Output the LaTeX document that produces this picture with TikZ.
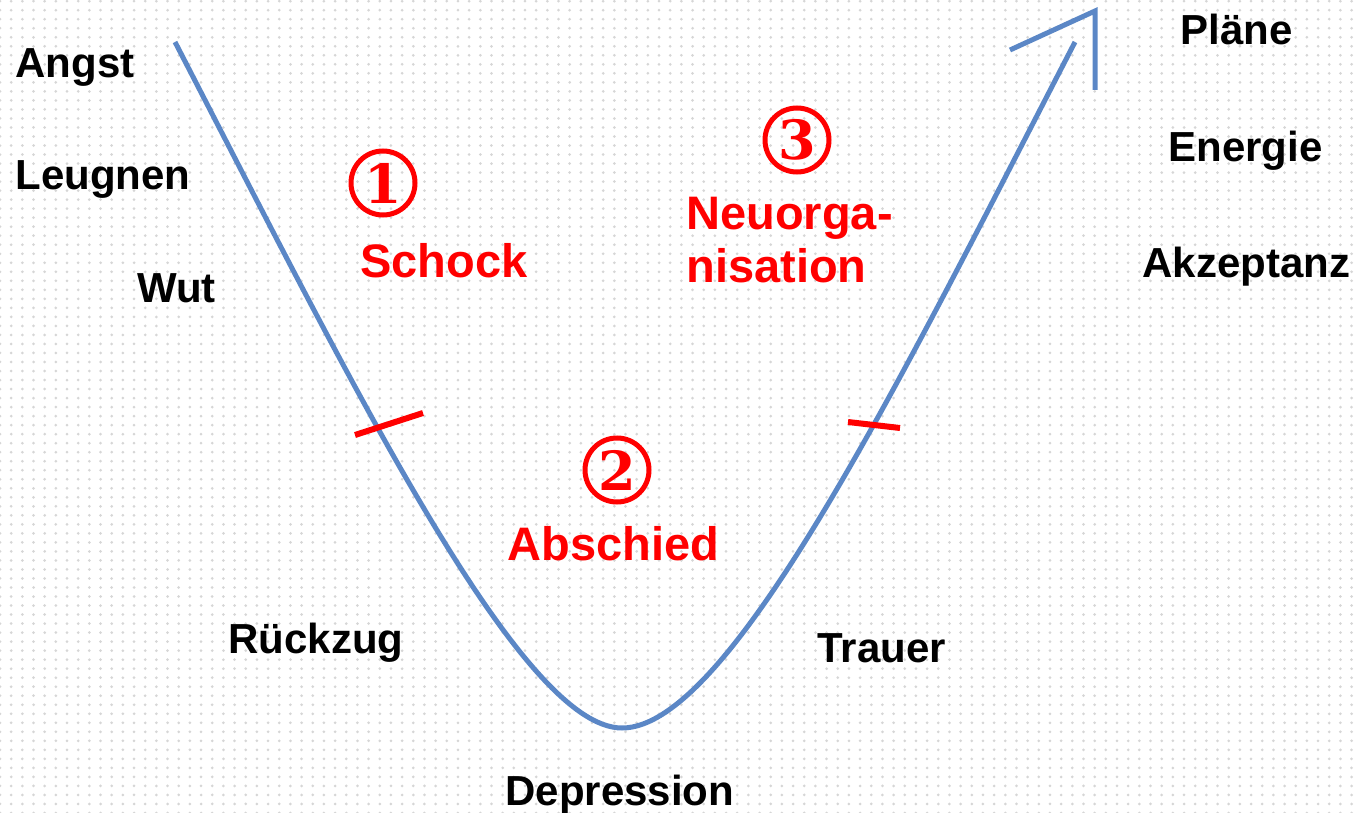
\documentclass[tikz,border=0pt]{standalone}
\usepackage{fontspec}
\setmainfont{Liberation Sans}
\newfontfamily\digitfont{DejaVu Serif}
\usetikzlibrary{positioning, patterns}
\definecolor{curveblue}{RGB}{91,135,198}
\definecolor{markred}{RGB}{255,0,0}
\definecolor{dotgray}{RGB}{214,214,214}
\pgfdeclarepatternformonly{gridDots}{\pgfqpoint{-1pt}{-1pt}}{\pgfqpoint{1pt}{1pt}}{\pgfqpoint{5.585pt}{4.51pt}}{\pgfpathcircle{\pgfqpoint{0pt}{0pt}}{0.75pt}\pgfusepath{fill}}

\begin{document}
\begin{tikzpicture}[x=0.5pt, y=-0.5pt,
  lbl/.style={font=\fontsize{21}{25}\selectfont\bfseries, text=black, inner sep=0pt, anchor=base west},
  phase/.style={font=\fontsize{23.5}{28}\selectfont\bfseries, text=markred, inner sep=0pt, anchor=base west},
  numcirc/.style={circle, draw=markred, line width=2.5pt, minimum size=32pt, inner sep=0pt, text=markred, font=\digitfont\fontsize{27}{27}\selectfont\bfseries},
  curve/.style={draw=curveblue, line width=2.5pt},
  tickmark/.style={draw=markred, line width=3pt}]
\useasboundingbox (0,0) rectangle (1355,813);
% dotted background
\fill[pattern=gridDots, pattern color=dotgray] (0,0) rectangle (1355,813);

% left column
\node[lbl] (angst) at (15,78) {Angst};
\node[lbl] (leugnen) at (15,190) {Leugnen};
\node[lbl] (wut) at (137,302) {Wut};
\node[lbl] (rueckzug) at (228,653) {Rückzug};
% bottom and right
\node[lbl] (depression) at (505,805) {Depression};
\node[lbl] (trauer) at (817,662) {Trauer};
\node[lbl] (plaene) at (1180,45) {Pläne};
\node[lbl] (energie) at (1168,162) {Energie};
\node[lbl] (akzeptanz) at (1142,277) {Akzeptanz};

% phases
\node[numcirc] (one) at (383,183) {1};
\node[phase] (schock) at (360,277) {Schock};
\node[numcirc] (two) at (617,470) {2};
\node[phase] (abschied) at (507,560) {Abschied};
\node[numcirc] (three) at (797,140) {3};
\node[phase] (neuorga) at (686,229) {Neuorga-};
\node[phase] (nisation) at (686,282) {nisation};

% curve
\coordinate (start) at (175,42);
\coordinate (bottom) at (622,728);
\coordinate (finish) at (1075,42);
\draw[curve] (start) .. controls (350,380) and (520,728) .. (bottom)
  .. controls (730,728) and (900,380) .. (finish);
\coordinate (tipL) at (1010,50);
\coordinate (tip) at (1095,11);
\coordinate (tipB) at (1095,90);
\draw[curve] (tipL) -- (tip) -- (tipB);

% phase borders
\coordinate (lt1) at (355,435);
\coordinate (lt2) at (423,413);
\coordinate (rt1) at (848,422);
\coordinate (rt2) at (900,428);
\draw[tickmark] (lt1) -- (lt2);
\draw[tickmark] (rt1) -- (rt2);
\end{tikzpicture}
\end{document}
